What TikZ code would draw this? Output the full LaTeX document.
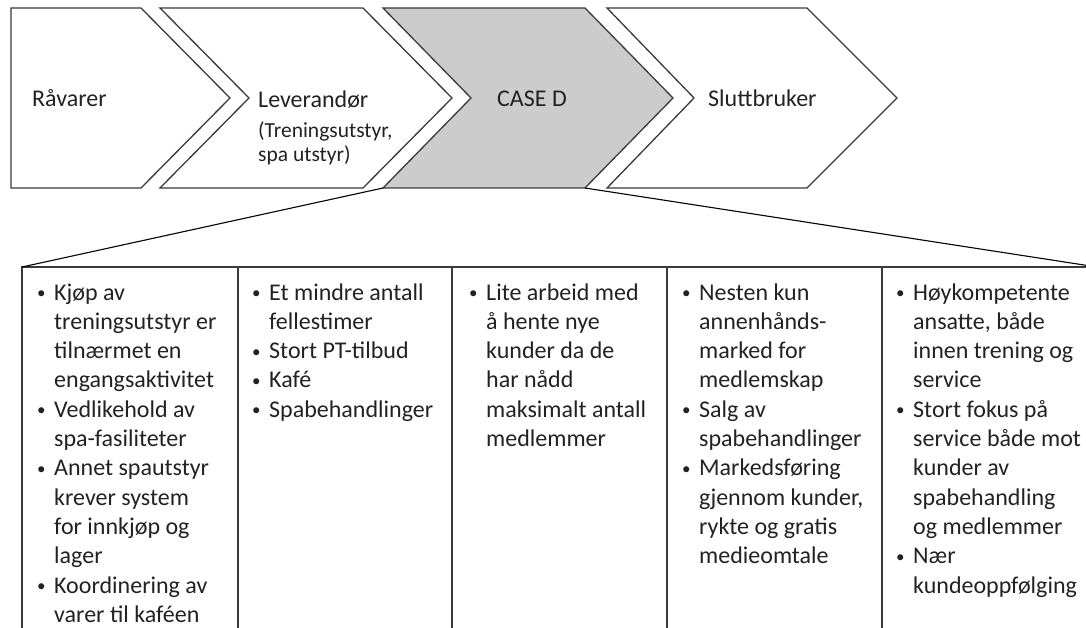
\documentclass[tikz,border=0pt]{standalone}
\usepackage{fontspec}
\setmainfont{Carlito}
\usepackage{array}
\definecolor{edge}{HTML}{3A3A3A}
\definecolor{casefill}{HTML}{CCCCCC}
\definecolor{ink}{HTML}{222222}
\tikzset{
  chev/.style={draw=edge, line width=1.3pt, line join=miter, fill=white},
  chevcase/.style={chev, fill=casefill},
  head/.style={anchor=base west, inner sep=0pt, text=ink, font=\fontsize{24}{29}\selectfont},
  subhead/.style={anchor=base west, inner sep=0pt, text=ink, font=\fontsize{21.5}{25}\selectfont},
  cell/.style={anchor=base west, inner sep=0pt, text=ink, font=\fontsize{24}{29.3}\selectfont},
  rule/.style={draw=edge, line width=1.6pt},
  zoomline/.style={draw=black, line width=1.1pt},
}
% bullet list laid out as a two-column tabular: bullet, then text
\newenvironment{bulletcol}{\begin{tabular}[t]{@{}p{18pt}@{}l@{}}}{\end{tabular}}
\newcommand{\bul}{\hspace{1pt}\raisebox{1.5pt}{\fontsize{17}{17}\selectfont\textbullet}}
\begin{document}
\begin{tikzpicture}[x=1pt, y=-1pt]
\useasboundingbox (0,0) rectangle (1086,628);
\clip (0,0) rectangle (1086,628);

% value chain
\draw[chev] (11,8) -- (141,8) -- (230,98) -- (141,188) -- (11,188) -- cycle;
\draw[chev] (160,8) -- (363,8) -- (452,98) -- (363,188) -- (160,188) -- (249,98) -- cycle;
\draw[chevcase] (383,8) -- (585,8) -- (673,98) -- (585,188) -- (383,188) -- (471,98) -- cycle;
\draw[chev] (607,8) -- (807,8) -- (897,98) -- (807,188) -- (607,188) -- (694,98) -- cycle;

\coordinate (caseBL) at (383,188);
\coordinate (caseBR) at (585,188);

\node[head] (raa) at (32,107) {Råvarer};
\node[head] (lev) at (258,108) {Leverandør};
\node[subhead] (lev2) at (258,138) {(Treningsutstyr,};
\node[subhead] (lev3) at (258,162) {spa utstyr)};
\node[head] (case) at (497,107) {CASE D};
\node[head] (slutt) at (708,107) {Sluttbruker};

% detail table
\coordinate (tTL) at (22,267);
\coordinate (tTR) at (1097,267);
\draw[rule] (22,640) -- (tTL) -- (tTR) -- (1097,640);
\foreach \x in {238,452,667,882} \draw[rule] (\x,267) -- (\x,640);

\draw[zoomline] (caseBL) -- (tTL);
\draw[zoomline] (caseBR) -- (tTR);

\node[cell] (k1) at (36,300) {\begin{bulletcol}
\bul & Kjøp av\\
 & treningsutstyr er\\
 & tilnærmet en\\
 & engangsaktivitet\\
\bul & Vedlikehold av\\
 & spa-fasiliteter\\
\bul & Annet spautstyr\\
 & krever system\\
 & for innkjøp og\\
 & lager\\
\bul & Koordinering av\\
 & varer til kaféen
\end{bulletcol}};

\node[cell] (k2) at (251,300) {\begin{bulletcol}
\bul & Et mindre antall\\
 & fellestimer\\
\bul & Stort PT-tilbud\\
\bul & Kafé\\
\bul & Spabehandlinger
\end{bulletcol}};

\node[cell] (k3) at (468,300) {\begin{bulletcol}
\bul & Lite arbeid med\\
 & å hente nye\\
 & kunder da de\\
 & har nådd\\
 & maksimalt antall\\
 & medlemmer
\end{bulletcol}};

\node[cell] (k4) at (681,300) {\begin{bulletcol}
\bul & Nesten kun\\
 & annenhånds-\\
 & marked for\\
 & medlemskap\\
\bul & Salg av\\
 & spabehandlinger\\
\bul & Markedsføring\\
 & gjennom kunder,\\
 & rykte og gratis\\
 & medieomtale
\end{bulletcol}};

\node[cell] (k5) at (895,300) {\begin{bulletcol}
\bul & Høykompetente\\
 & ansatte, både\\
 & innen trening og\\
 & service\\
\bul & Stort fokus på\\
 & service både mot\\
 & kunder av\\
 & spabehandling\\
 & og medlemmer\\
\bul & Nær\\
 & kundeoppfølging
\end{bulletcol}};
\end{tikzpicture}
\end{document}
